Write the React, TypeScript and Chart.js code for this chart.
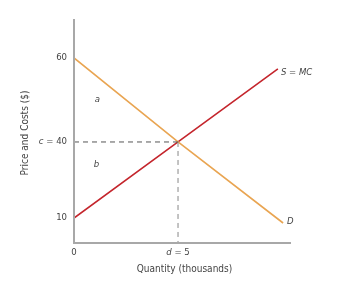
import React, { useEffect, useRef } from "react";
import { Chart, registerables, LinearScale } from "chart.js";

Chart.register(...registerables);

// Quantity (thousands) and price ($) points of each curve
const demandQty = [0, 5, 10.05];
const demandPrice = [60, 40, 8];
const supplyQty = [0, 5, 9.8];
const supplyPrice = [10, 40, 57.4];

// Equilibrium
const eqQty = 5;
const eqPrice = 40;

// Labelled ticks
const priceTicks = [60, 40, 10];
const priceTickLabels = [["", "60"], ["c", " = 40"], ["", "10"]];
const qtyTicks = [0, 5];
const qtyTickLabels = [["", "0"], ["d", " = 5"]];

// The price axis is drawn schematically (not to scale): piecewise-linear knots
const PRICE_KNOT_VALUES = [0, 10, 40, 60, 70];
const PRICE_KNOT_DECIMALS = [0, 0.1116, 0.451, 0.826, 1];

function interp(v: number, xs: number[], ys: number[]) {
  if (v <= xs[0]) return ys[0] + ((v - xs[0]) * (ys[1] - ys[0])) / (xs[1] - xs[0]);
  for (let i = 1; i < xs.length; i++) {
    if (v <= xs[i]) {
      return ys[i - 1] + ((v - xs[i - 1]) * (ys[i] - ys[i - 1])) / (xs[i] - xs[i - 1]);
    }
  }
  const n = xs.length - 1;
  return ys[n] + ((v - xs[n]) * (ys[n] - ys[n - 1])) / (xs[n] - xs[n - 1]);
}

class SchematicScale extends LinearScale {
  static id = "schematic";
  static defaults = (LinearScale as any).defaults;
  getPixelForValue(value: number) {
    return (this as any).getPixelForDecimal(interp(value, PRICE_KNOT_VALUES, PRICE_KNOT_DECIMALS));
  }
  getValueForPixel(pixel: number) {
    return interp((this as any).getDecimalForPixel(pixel), PRICE_KNOT_DECIMALS, PRICE_KNOT_VALUES);
  }
}
Chart.register(SchematicScale as any);

const FONT = '"DejaVu Sans Condensed", "Liberation Sans", Arial, sans-serif';
const AXIS_COLOR = "#a8a8a8";
const TEXT_COLOR = "#444";

function drawMixed(
  ctx: CanvasRenderingContext2D,
  parts: string[],
  x: number,
  y: number,
  align: "left" | "right" | "center",
  size: number
) {
  const italic = `italic ${size}px ${FONT}`;
  const normal = `${size}px ${FONT}`;
  ctx.font = italic;
  const w0 = ctx.measureText(parts[0]).width;
  ctx.font = normal;
  const w1 = ctx.measureText(parts[1]).width;
  const total = w0 + w1;
  let start = x;
  if (align === "right") start = x - total;
  else if (align === "center") start = x - total / 2;
  ctx.textAlign = "left";
  ctx.textBaseline = "middle";
  ctx.font = italic;
  ctx.fillText(parts[0], start, y);
  ctx.font = normal;
  ctx.fillText(parts[1], start + w0, y);
}

const annotations = {
  id: "annotations",
  afterDraw(chart: any) {
    const { ctx, chartArea, scales } = chart;
    const xs = scales.x;
    const ys = scales.y;
    ctx.save();

    // axes
    ctx.strokeStyle = AXIS_COLOR;
    ctx.lineWidth = 2;
    ctx.beginPath();
    ctx.moveTo(chartArea.left, chartArea.top);
    ctx.lineTo(chartArea.left, chartArea.bottom);
    ctx.lineTo(chartArea.right, chartArea.bottom);
    ctx.stroke();

    ctx.fillStyle = TEXT_COLOR;
    priceTicks.forEach((v, i) => {
      drawMixed(ctx, priceTickLabels[i], chartArea.left - 7, ys.getPixelForValue(v), "right", 9.5);
    });
    qtyTicks.forEach((v, i) => {
      drawMixed(ctx, qtyTickLabels[i], xs.getPixelForValue(v), chartArea.bottom + 10, "center", 9.5);
    });

    // axis titles
    ctx.font = `10px ${FONT}`;
    ctx.textAlign = "center";
    ctx.textBaseline = "middle";
    ctx.fillText("Quantity (thousands)", (chartArea.left + chartArea.right) / 2 + 2, chartArea.bottom + 26);
    ctx.save();
    ctx.translate(25, 133);
    ctx.rotate(-Math.PI / 2);
    ctx.fillText("Price and Costs ($)", 0, 0);
    ctx.restore();

    // curve and area labels
    ctx.font = `italic 9.5px ${FONT}`;
    ctx.textAlign = "left";
    ctx.fillText("a", xs.getPixelForValue(1), ys.getPixelForValue(50));
    ctx.fillText("b", xs.getPixelForValue(0.95), ys.getPixelForValue(31));
    const sEnd = supplyQty.length - 1;
    ctx.fillText("S = MC", xs.getPixelForValue(supplyQty[sEnd]) + 3, ys.getPixelForValue(supplyPrice[sEnd]) + 4);
    const dEnd = demandQty.length - 1;
    ctx.fillText("D", xs.getPixelForValue(demandQty[dEnd]) + 4, ys.getPixelForValue(demandPrice[dEnd]) - 1);
    ctx.restore();
  },
};

export default function App() {
  const ref = useRef<HTMLCanvasElement>(null);
  useEffect(() => {
    document.body.style.margin = "0";
    const toPts = (qs: number[], ps: number[]) => qs.map((q, i) => ({ x: q, y: ps[i] }));
    const chart = new Chart(ref.current!, {
      type: "line",
      data: {
        datasets: [
          {
            data: [{ x: 0, y: eqPrice }, { x: eqQty, y: eqPrice }],
            borderColor: "#555",
            borderWidth: 1,
            borderDash: [5, 4],
            pointRadius: 0,
          },
          {
            data: [{ x: eqQty, y: eqPrice }, { x: eqQty, y: 0 }],
            borderColor: "#888",
            borderWidth: 1,
            borderDash: [5, 4],
            pointRadius: 0,
          },
          {
            data: toPts(demandQty, demandPrice),
            borderColor: "#E9A552",
            borderWidth: 1.6,
            pointRadius: 0,
          },
          {
            data: toPts(supplyQty, supplyPrice),
            borderColor: "#C4252C",
            borderWidth: 1.6,
            pointRadius: 0,
          },
        ],
      },
      options: {
        responsive: false,
        animation: false,
        events: [],
        layout: { padding: { left: 74, top: 19, right: 55, bottom: 57 } },
        plugins: { legend: { display: false }, tooltip: { enabled: false } },
        scales: {
          x: { type: "linear", min: 0, max: 10.43, display: false },
          y: { type: "schematic" as any, min: 0, max: 70, display: false },
        },
      },
      plugins: [annotations],
    });
    return () => chart.destroy();
  }, []);
  return (
    <div style={{ position: "fixed", left: 0, top: 0, width: 346, height: 300, background: "#fff" }}>
      <canvas ref={ref} width={346} height={300} />
    </div>
  );
}
